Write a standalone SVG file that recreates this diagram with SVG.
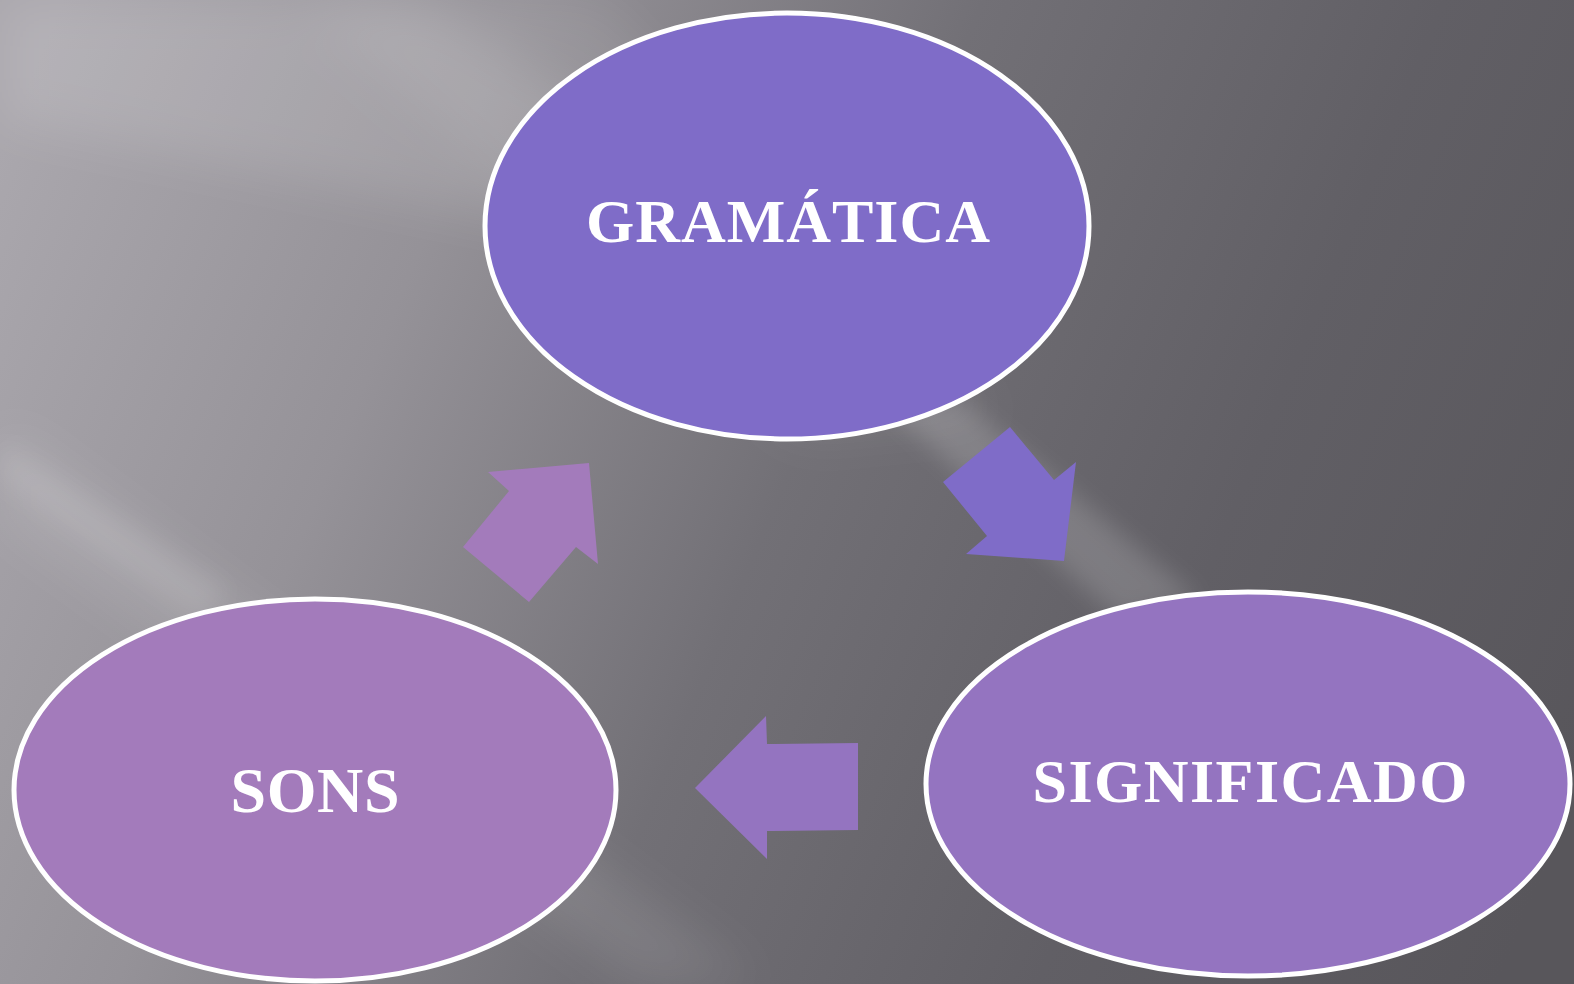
<svg xmlns="http://www.w3.org/2000/svg" width="1574" height="984" viewBox="0 0 1574 984">
<defs>
<linearGradient id="bg" x1="0" y1="150" x2="1574" y2="800" gradientUnits="userSpaceOnUse">
<stop offset="0" stop-color="#aaa7ad"/>
<stop offset="0.25" stop-color="#959298"/>
<stop offset="0.5" stop-color="#727076"/>
<stop offset="0.75" stop-color="#615f65"/>
<stop offset="1" stop-color="#58565b"/>
</linearGradient>
<filter id="blur" x="-20%" y="-20%" width="140%" height="140%">
<feGaussianBlur stdDeviation="25"/>
</filter>
<filter id="blur2" x="-20%" y="-20%" width="140%" height="140%">
<feGaussianBlur stdDeviation="12"/>
</filter>
<style>
.node{stroke:#ffffff;stroke-width:5}
.lbl{font-family:"Liberation Serif","DejaVu Serif",serif;font-weight:bold;fill:#ffffff;text-anchor:middle;font-kerning:none}
.streak{fill:#ffffff}
</style>
</defs>
<rect width="1574" height="984" fill="url(#bg)"/>
<g filter="url(#blur)">
<polygon class="streak" opacity="0.12" points="0,0 420,0 900,300 0,120"/>
<polygon class="streak" opacity="0.10" points="0,420 0,520 640,984 760,984"/>
<polygon class="streak" opacity="0.08" points="300,0 600,0 1000,420 800,440"/>
</g>
<g filter="url(#blur2)">
<polygon class="streak" opacity="0.16" points="880,400 960,400 1200,600 1120,620"/>
<polygon class="streak" opacity="0.10" points="0,440 0,480 200,620 230,590"/>
</g>
<g id="connectors">
<polygon id="arrow-sons-gramatica" points="488,472 589,463 598,564 576,547 529,602 463,547 509,491" fill="#a37bbb"/>
<polygon id="arrow-gramatica-significado" points="1010,427 1054,480 1076,462 1064,561 966,554 987,536 943,482" fill="#7f6cc8"/>
<polygon id="arrow-significado-sons" points="695,788 766,716 767,744 858,743 858,830 767,831 767,859" fill="#9474c0"/>
</g>
<g id="gramatica">
<ellipse class="node" cx="787" cy="226" rx="302" ry="213" fill="#7f6cc8"/>
<text class="lbl" x="788" y="242" font-size="62" textLength="404" lengthAdjust="spacing">GRAMÁTICA</text>
</g>
<g id="sons">
<ellipse class="node" cx="315" cy="790" rx="301" ry="191" fill="#a37bbb"/>
<text class="lbl" x="315" y="812" font-size="64" textLength="169" lengthAdjust="spacing">SONS</text>
</g>
<g id="significado">
<ellipse class="node" cx="1248" cy="784" rx="322" ry="192" fill="#9474c0"/>
<text class="lbl" x="1250" y="802" font-size="62" textLength="435" lengthAdjust="spacing">SIGNIFICADO</text>
</g>
</svg>
